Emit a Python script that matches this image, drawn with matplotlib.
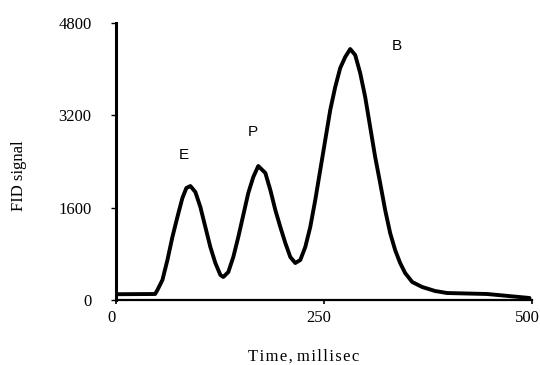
import matplotlib
matplotlib.use("Agg")
import matplotlib.pyplot as plt
from matplotlib.transforms import ScaledTranslation

# Data
time_ms = [0, 47, 49.8, 55.8, 61.8, 67.8, 73.8, 79.8, 84.6, 89.4, 95.4, 101.4,
           107.4, 113.4, 119.4, 125.5, 129, 135, 141, 147, 153, 159, 165, 171,
           179.5, 185.5, 191.5, 197.5, 203.5, 209.5, 215.5, 221.5, 227.5, 233.5,
           239.5, 245.5, 251.5, 257.5, 263.5, 269.5, 275.5, 281.5, 287.5, 293.5,
           299.5, 305.5, 311.5, 317.5, 323.5, 329.5, 335.5, 341.5, 347.5, 356,
           368, 383.5, 398, 446, 497]
fid_signal = [100, 104, 173, 347, 693, 1092, 1438, 1767, 1941, 1975, 1871, 1611,
              1265, 918, 641, 433, 399, 485, 745, 1092, 1473, 1854, 2131, 2322,
              2201, 1906, 1560, 1265, 988, 745, 641, 693, 918, 1265,
              1733, 2253, 2772, 3292, 3691, 4020, 4211, 4349, 4245, 3933,
              3518, 2998, 2478, 2027, 1560, 1161, 866, 641, 468, 312,
              225, 156, 121, 104, 35]
peak_labels = ["E", "P", "B"]
peak_label_x = [82, 164, 338]
peak_label_y = [2513, 2912, 4402]
yticks = [0, 1600, 3200, 4800]
xticks = [0, 250, 500]

fig = plt.figure(figsize=(5.4, 3.65), dpi=100)
ax = fig.add_axes([116 / 540, 1 - 300 / 365, (532 - 116) / 540, (300 - 23) / 365])

ax.plot(time_ms, fid_signal, color="black", lw=2.8, solid_capstyle="round",
        solid_joinstyle="round")

for lab, lx, ly in zip(peak_labels, peak_label_x, peak_label_y):
    ax.text(lx, ly, lab, ha="center", va="center", fontsize=11,
            family="Liberation Sans")

ax.set_xlim(0, 500)
ax.set_ylim(0, 4800)
ax.set_xticks(xticks)
ax.set_yticks(yticks)
ax.set_xticklabels([str(v) for v in xticks], family="Liberation Serif", fontsize=12)
ax.set_yticklabels([str(v) for v in yticks], family="Liberation Serif", fontsize=12)

for s in ["top", "right"]:
    ax.spines[s].set_visible(False)
ax.spines["left"].set_linewidth(2.2)
ax.spines["bottom"].set_linewidth(1.6)
ax.tick_params(axis="y", direction="out", length=3.6, width=1, pad=14)
ax.tick_params(axis="x", direction="out", length=3, width=1.2, pad=4)

shift = ScaledTranslation(-5 / 100, 0, fig.dpi_scale_trans)
for lbl in ax.get_xticklabels():
    lbl.set_transform(lbl.get_transform() + shift)

ax.set_ylabel("FID signal", family="Liberation Serif", fontsize=12)
ax.yaxis.set_label_coords(-0.215, 0.448)
label_text = "\u200a".join("Time,") + " " + "\u200a".join("millisec")
ax.set_xlabel(label_text, family=["Liberation Serif", "DejaVu Serif"], fontsize=12)
ax.xaxis.set_label_coords(0.452, -0.177)

fig.savefig("out.png", dpi=100)
